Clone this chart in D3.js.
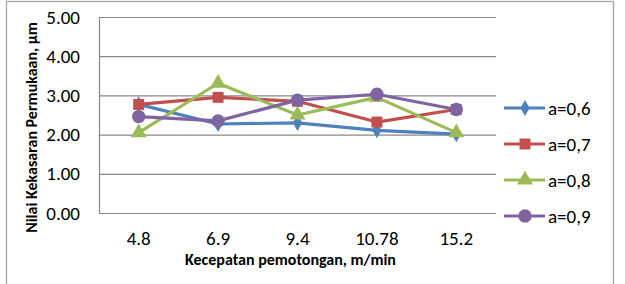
<!DOCTYPE html>
<html>
<head>
<meta charset="utf-8">
<script src="https://cdn.jsdelivr.net/npm/d3@7"></script>
<style>
  body { margin: 0; background: #fff; }
  text { font-family: Calibri, Carlito, "Open Sans", "DejaVu Sans", sans-serif; fill: #000; }
</style>
</head>
<body>
<div id="chart"></div>
<script>
var speeds = ["4.8", "6.9", "9.4", "10.78", "15.2"];
var seriesNames = ["a=0,6", "a=0,7", "a=0,8", "a=0,9"];
var a06 = [2.77, 2.27, 2.30, 2.11, 2.01];
var a07 = [2.77, 2.95, 2.85, 2.32, 2.64];
var a08 = [2.05, 3.31, 2.50, 2.95, 2.05];
var a09 = [2.46, 2.35, 2.88, 3.03, 2.64];
var yTicks = [0, 1, 2, 3, 4, 5];
var colors = ["#4F81BD", "#C0504D", "#9BBB59", "#8064A2"];
var shapes = ["diamond", "square", "triangle", "circle"];

var series = [a06, a07, a08, a09].map(function(vals, i){
    return { name: seriesNames[i], color: colors[i], shape: shapes[i], values: vals };
});

var W = 625, H = 284;
var margin = { top: 17, left: 99, right: 129, bottom: 71 };
var width = W - margin.left - margin.right;
var height = H - margin.top - margin.bottom;

var svg = d3.select("#chart").append("svg")
    .attr("width", W)
    .attr("height", H);

// outer frame
svg.append("rect")
    .attr("x", 6.5).attr("y", 1.5)
    .attr("width", 607).attr("height", 290)
    .attr("fill", "none")
    .attr("stroke", "#a6a6a6")
    .attr("stroke-width", 1.3);

var g = svg.append("g")
    .attr("transform", "translate(" + margin.left + "," + margin.top + ")");

var x = d3.scaleBand().domain(speeds).range([0, width]);
var y = d3.scaleLinear().domain([0, 5]).range([height, 0]);

// gridlines
g.selectAll(".grid")
    .data(yTicks).enter()
    .append("line")
    .attr("class", "grid")
    .attr("x1", 0).attr("x2", width)
    .attr("y1", function(d){ return y(d) + 0.5; })
    .attr("y2", function(d){ return y(d) + 0.5; })
    .attr("stroke", "#888")
    .attr("stroke-width", 1.2);

g.append("line")
    .attr("x1", 0.5).attr("x2", 0.5)
    .attr("y1", 0).attr("y2", height)
    .attr("stroke", "#888")
    .attr("stroke-width", 1.2);

// y tick labels
g.selectAll(".ylab")
    .data(yTicks).enter()
    .append("text")
    .attr("x", -19)
    .attr("y", function(d){ return y(d); })
    .attr("dy", "0.35em")
    .attr("text-anchor", "end")
    .style("font-size", "19px")
    .text(function(d){ return d3.format(".2f")(d); });

// x tick labels
g.selectAll(".xlab")
    .data(speeds).enter()
    .append("text")
    .attr("x", function(d){ return x(d) + x.bandwidth() / 2; })
    .attr("y", height + 32)
    .attr("text-anchor", "middle")
    .style("font-size", "19px")
    .text(function(d){ return d; });

// axis titles
g.append("text")
    .attr("x", width / 2 - 7)
    .attr("y", height + 52)
    .attr("text-anchor", "middle")
    .style("font-size", "16px")
    .style("font-weight", "bold")
    .text("Kecepatan pemotongan, m/min");

g.append("text")
    .attr("transform", "translate(-62," + (height / 2 + 12.5) + ")rotate(-90)")
    .attr("text-anchor", "middle")
    .style("font-size", "16px")
    .style("font-weight", "bold")
    .text("Nilai Kekasaran Permukaan, \u03bcm");

function symbolFor(shape){
    if (shape === "diamond") return d3.symbol().type(d3.symbolDiamond).size(75);
    if (shape === "square") return d3.symbol().type(d3.symbolSquare).size(120);
    if (shape === "triangle") return d3.symbol().type(d3.symbolTriangle).size(110);
    return d3.symbol().type(d3.symbolCircle).size(140);
}

var line = d3.line()
    .x(function(d, i){ return x(speeds[i]) + x.bandwidth() / 2; })
    .y(function(d){ return y(d); });

series.forEach(function(s){
    g.append("path")
        .datum(s.values)
        .attr("d", line)
        .attr("fill", "none")
        .attr("stroke", s.color)
        .attr("stroke-width", 3.2)
        .attr("stroke-linejoin", "round");

    g.selectAll(null)
        .data(s.values).enter()
        .append("path")
        .attr("d", symbolFor(s.shape))
        .attr("transform", function(d, i){
            return "translate(" + (x(speeds[i]) + x.bandwidth() / 2) + "," + y(d) + ")";
        })
        .attr("fill", s.color);
});

// legend
var legend = svg.selectAll(".legend")
    .data(series).enter()
    .append("g")
    .attr("class", "legend")
    .attr("transform", function(d, i){ return "translate(504," + (108 + 36 * i) + ")"; });

legend.append("line")
    .attr("x1", 0).attr("x2", 41)
    .attr("stroke", function(d){ return d.color; })
    .attr("stroke-width", 3.2);

legend.append("path")
    .attr("d", function(d){ return symbolFor(d.shape)(); })
    .attr("transform", "translate(21,0)")
    .attr("fill", function(d){ return d.color; });

legend.append("text")
    .attr("x", 44)
    .attr("dy", "0.35em")
    .style("font-size", "19px")
    .text(function(d){ return d.name; });
</script>
</body>
</html>
